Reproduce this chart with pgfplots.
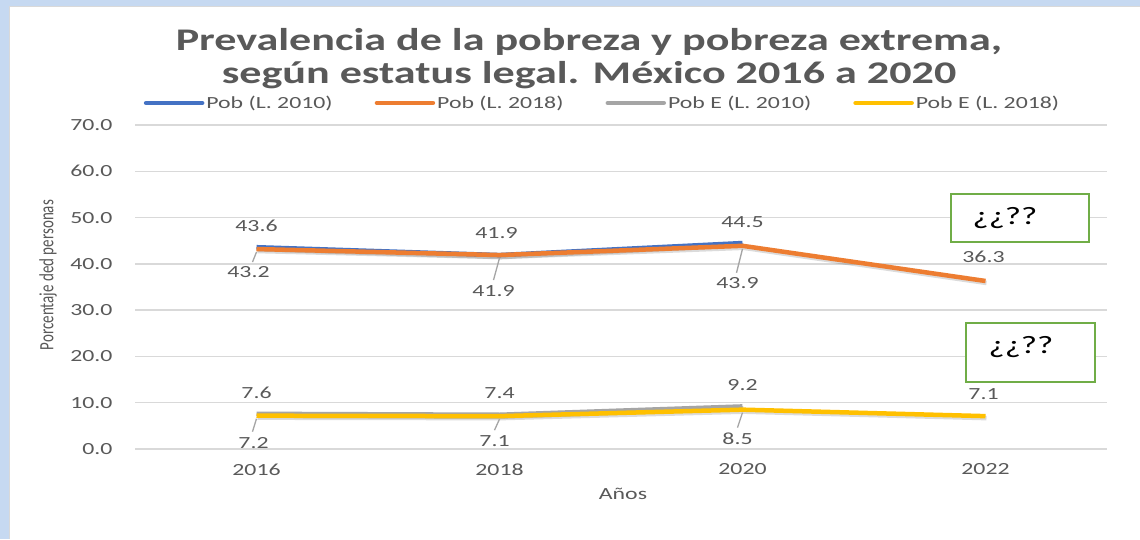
\documentclass[border=0pt]{standalone}
\usepackage{pgfplots}
\pgfplotsset{compat=1.18}
\usepackage{fontspec}
\setmainfont[FakeStretch=1.4]{Carlito}
\newfontfamily\plainfont{Carlito}
\definecolor{cblue}{HTML}{4472C4}
\definecolor{corange}{HTML}{ED7D31}
\definecolor{cgray}{HTML}{A5A5A5}
\definecolor{cyellow}{HTML}{FFC000}
\definecolor{txt}{HTML}{595959}
\definecolor{gridc}{HTML}{D9D9D9}
\definecolor{bgblue}{HTML}{C6D9F1}
\definecolor{cgreen}{HTML}{70AD47}
\begin{document}
\begin{tikzpicture}[x=1pt,y=1pt]
\useasboundingbox (0,0) rectangle (1140,539);
\fill[bgblue] (0,0) rectangle (1140,539);
\fill[white] (9,0) rectangle (1140,533);
\draw[gridc, line width=0.8pt] (9,0) -- (9,533) -- (1140,533);
\node[font=\fontsize{31.5}{33}\selectfont\bfseries, text=txt, align=center] at (589,480) {Prevalencia de la pobreza y pobreza extrema,\\según estatus legal. México 2016 a 2020};
\begin{axis}[
  at={(135pt,90pt)}, anchor=south west,
  width=972pt, height=324pt, scale only axis,
  xmin=-0.5, xmax=3.5, ymin=0, ymax=70,
  ytick={0,10,...,70}, xtick={0,1,2,3},
  xticklabels={2016,2018,2020,2022},
  ymajorgrids, grid style={color=gridc, line width=1.3pt},
  axis line style={draw=none},
  major tick length=0pt,
  tick label style={font=\fontsize{17}{17}\selectfont, text=txt},
  yticklabel style={xshift=-19pt, /pgf/number format/fixed, /pgf/number format/fixed zerofill, /pgf/number format/precision=1, /pgf/number format/assume math mode=true},
  xticklabel style={yshift=-11pt},
  clip=false,
  legend columns=4,
  legend style={at={(0.481,1.068)}, anchor=center, draw=none, fill=none,
    font=\fontsize{17}{17}\selectfont, text=txt,
    /tikz/every even column/.append style={column sep=40pt},
    nodes={inner sep=2pt}},
  legend image code/.code={\draw[#1, line cap=round] (0pt,0pt) -- (56pt,0pt);},
  every axis plot/.append style={line width=4.5pt, line join=round},
]
\addplot[black, opacity=0.14, yshift=-2pt, xshift=1pt, forget plot] coordinates {(0,43.6) (1,41.9) (2,44.5)};
\addplot[cblue] coordinates {(0,43.6) (1,41.9) (2,44.5)};
\addlegendentry{Pob (L. 2010)}
\addplot[black, opacity=0.14, yshift=-2pt, xshift=1pt, forget plot] coordinates {(0,43.2) (1,41.9) (2,43.9) (3,36.3)};
\addplot[corange] coordinates {(0,43.2) (1,41.9) (2,43.9) (3,36.3)};
\addlegendentry{Pob (L. 2018)}
\addplot[black, opacity=0.14, yshift=-2pt, xshift=1pt, forget plot] coordinates {(0,7.6) (1,7.4) (2,9.2)};
\addplot[cgray] coordinates {(0,7.6) (1,7.4) (2,9.2)};
\addlegendentry{Pob E (L. 2010)}
\addplot[black, opacity=0.14, yshift=-2pt, xshift=1pt, forget plot] coordinates {(0,7.2) (1,7.1) (2,8.5) (3,7.1)};
\addplot[cyellow] coordinates {(0,7.2) (1,7.1) (2,8.5) (3,7.1)};
\addlegendentry{Pob E (L. 2018)}
% leader lines
\draw[cgray, line width=1.3pt] ([yshift=-3pt]axis cs:0,43.2) -- ([xshift=-4pt,yshift=-13pt]axis cs:0,43.2);
\draw[cgray, line width=1.3pt] ([yshift=-3pt]axis cs:1,41.9) -- ([xshift=-6pt,yshift=-25pt]axis cs:1,41.9);
\draw[cgray, line width=1.3pt] ([yshift=-3pt]axis cs:2,43.9) -- ([xshift=-6pt,yshift=-27pt]axis cs:2,43.9);
\draw[cgray, line width=1.3pt] ([yshift=-3pt]axis cs:0,7.2) -- ([xshift=-4pt,yshift=-16pt]axis cs:0,7.2);
\draw[cgray, line width=1.3pt] ([yshift=-3pt]axis cs:1,7.1) -- ([xshift=-5pt,yshift=-14pt]axis cs:1,7.1);
\draw[cgray, line width=1.3pt] ([yshift=-3pt]axis cs:2,8.5) -- ([xshift=-5pt,yshift=-18pt]axis cs:2,8.5);
% data labels
\begin{scope}[every node/.style={font=\fontsize{17}{17}\selectfont, text=txt}]
\node at ([yshift=21pt]axis cs:0,43.6) {43.6};
\node at ([xshift=-3pt,yshift=22pt]axis cs:1,41.9) {41.9};
\node at ([yshift=21pt]axis cs:2,44.5) {44.5};
\node at ([xshift=-8pt,yshift=-23pt]axis cs:0,43.2) {43.2};
\node at ([xshift=-6pt,yshift=-36pt]axis cs:1,41.9) {41.9};
\node at ([xshift=-5pt,yshift=-37pt]axis cs:2,43.9) {43.9};
\node at ([xshift=-2pt,yshift=24pt]axis cs:3,36.3) {36.3};
\node at ([yshift=21pt]axis cs:0,7.6) {7.6};
\node at ([yshift=22pt]axis cs:1,7.4) {7.4};
\node at ([yshift=21pt]axis cs:2,9.2) {9.2};
\node at ([xshift=-3pt,yshift=-27pt]axis cs:0,7.2) {7.2};
\node at ([xshift=-5pt,yshift=-25pt]axis cs:1,7.1) {7.1};
\node at ([xshift=-5pt,yshift=-29pt]axis cs:2,8.5) {8.5};
\node at ([xshift=-2pt,yshift=22pt]axis cs:3,7.1) {7.1};
\end{scope}
\end{axis}
\node[font=\fontsize{15}{15}\selectfont, text=txt, rotate=90] at (48,264) {\scalebox{1}[1.35]{\plainfont Porcentaje ded personas}};
\node[font=\fontsize{17}{17}\selectfont, text=txt] at (623,45) {Años};
\draw[cgreen, line width=1.8pt, fill=white] (951,297) rectangle (1089,345);
\node[font=\fontsize{25}{25}\selectfont] at (1005,321) {¿¿??};
\draw[cgreen, line width=1.8pt, fill=white] (966,157) rectangle (1095,216);
\node[font=\fontsize{25}{25}\selectfont] at (1021,192) {¿¿??};
\end{tikzpicture}
\end{document}
